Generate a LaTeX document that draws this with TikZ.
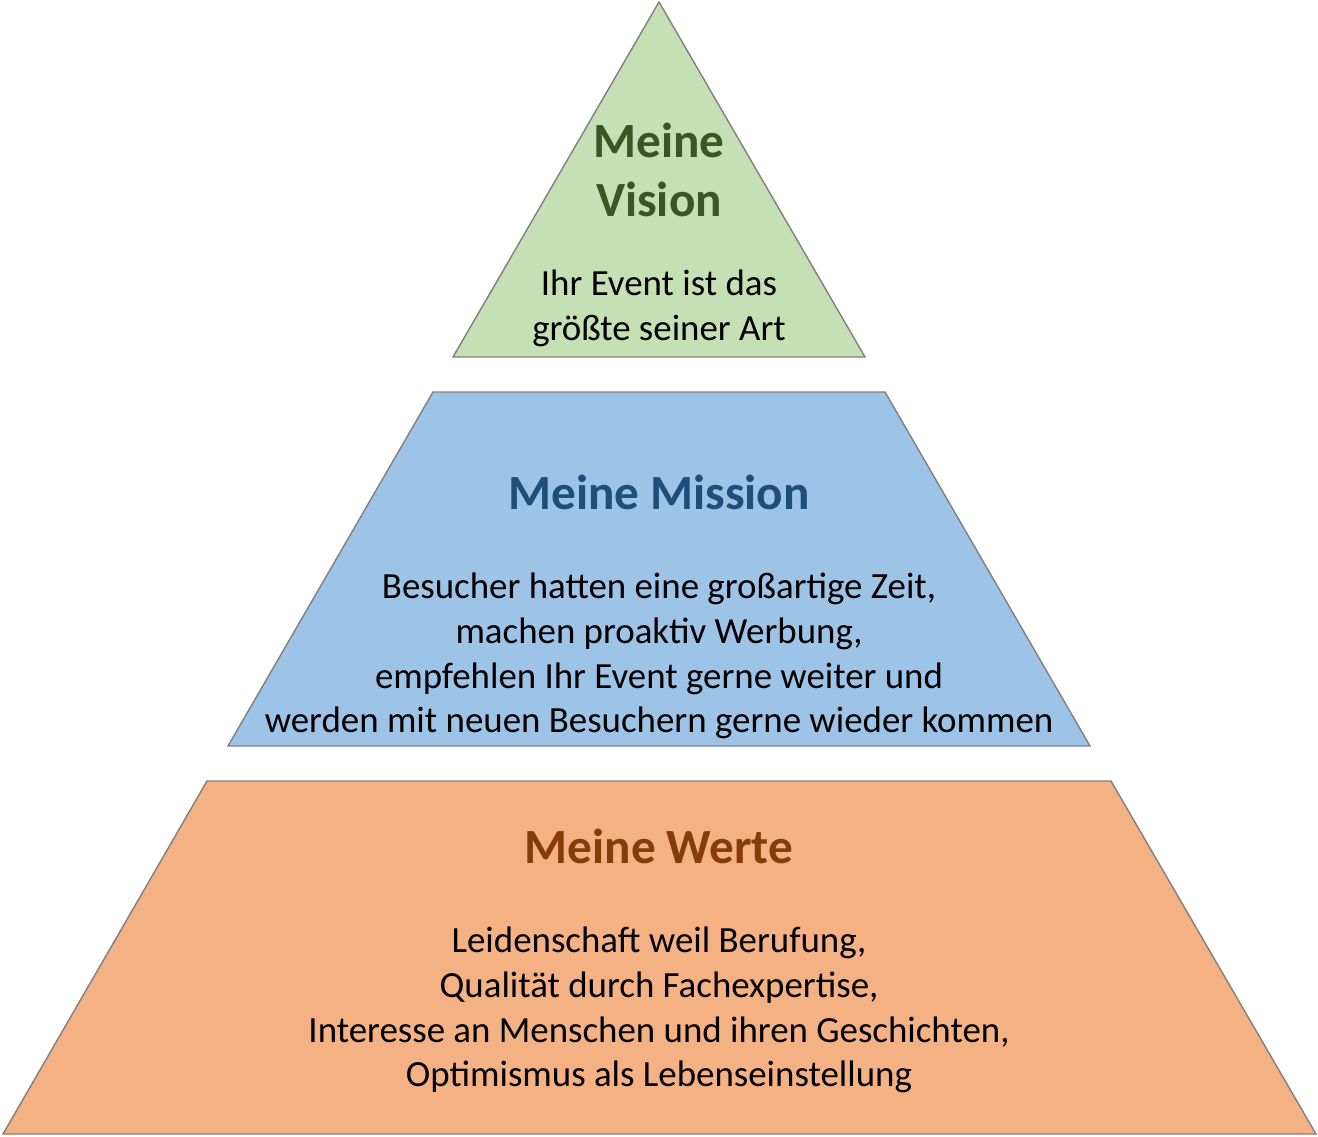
\documentclass[tikz,border=0pt]{standalone}
\usepackage{fontspec}
\setmainfont{Carlito}
\usetikzlibrary{positioning}
\definecolor{visfill}{HTML}{C5E0B4}
\definecolor{visdark}{HTML}{385723}
\definecolor{misfill}{HTML}{9DC3E6}
\definecolor{misdark}{HTML}{1F4E79}
\definecolor{wertfill}{HTML}{F4B183}
\definecolor{wertdark}{HTML}{843C0C}
\tikzset{layer/.style={draw=gray, line width=0.8pt},
  title/.style={font=\fontsize{28}{34}\selectfont\bfseries, align=center},
  body/.style={font=\fontsize{21}{25.5}\selectfont, align=center}}
\begin{document}
\begin{tikzpicture}[x=0.02cm, y=-0.02cm]
	\useasboundingbox (0,0) rectangle (1318,1136);
	\fill[white] (0,0) rectangle (1318,1136);
	% layers
	\draw [layer, fill=visfill] (659,2) -- (865,357) -- (453,357) -- cycle;
	\draw [layer, fill=misfill] (433,392) -- (885,392) -- (1090,746) -- (228,746) -- cycle;
	\draw [layer, fill=wertfill] (207,781) -- (1111,781) -- (1316,1134) -- (3,1134) -- cycle;
	% texts
	\node (vision) [title, text=visdark] at (659,170) {Meine\\Vision};
	\node (visiontext) [body] at (659,308) {Ihr Event ist das\\größte seiner Art};
	\node (mission) [title, text=misdark] at (659,492) {Meine Mission};
	\node (missiontext) [body] at (659,656) {Besucher hatten eine großartige Zeit,\\machen proaktiv Werbung,\\empfehlen Ihr Event gerne weiter und\\werden mit neuen Besuchern gerne wieder kommen};
	\node (werte) [title, text=wertdark] at (659,846) {Meine Werte};
	\node (wertetext) [body] at (659,1010) {Leidenschaft weil Berufung,\\Qualität durch Fachexpertise,\\Interesse an Menschen und ihren Geschichten,\\Optimismus als Lebenseinstellung};
\end{tikzpicture}
\end{document}
